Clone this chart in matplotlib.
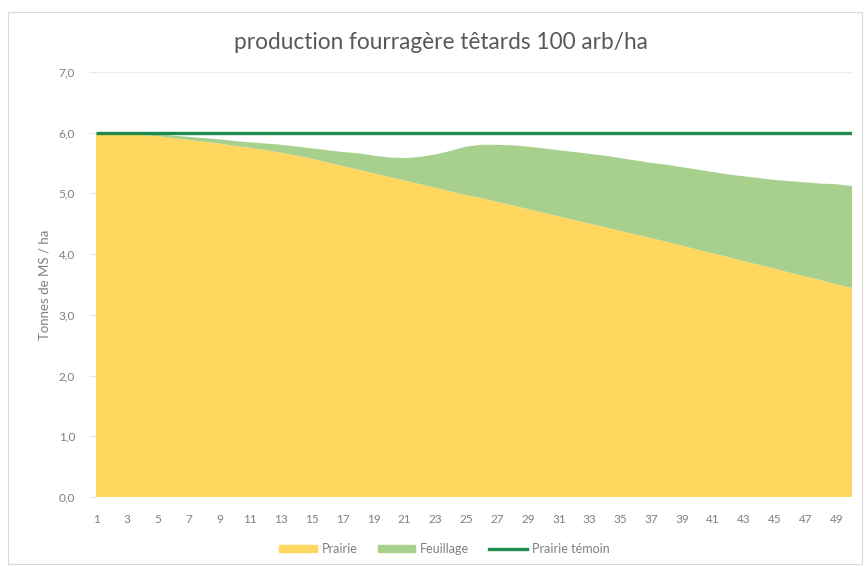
import matplotlib
matplotlib.use('Agg')
import matplotlib.pyplot as plt
from matplotlib.patches import Patch, Rectangle
from matplotlib.lines import Line2D
from matplotlib.ticker import FuncFormatter

plt.rcParams['font.family'] = ['Lato', 'DejaVu Sans']

# années 1 à 50
annees = list(range(1, 51))

prairie = [6.00, 5.99, 5.98, 5.96, 5.94, 5.91, 5.88, 5.85, 5.82, 5.78,
           5.75, 5.71, 5.67, 5.62, 5.57, 5.51, 5.45, 5.39, 5.33, 5.27,
           5.21, 5.15, 5.09, 5.03, 4.97, 4.92, 4.86, 4.80, 4.74, 4.68,
           4.62, 4.56, 4.50, 4.44, 4.38, 4.32, 4.26, 4.20, 4.14, 4.07,
           4.01, 3.95, 3.88, 3.82, 3.76, 3.69, 3.63, 3.57, 3.50, 3.44]

feuillage = [0.00, 0.01, 0.01, 0.02, 0.03, 0.04, 0.05, 0.06, 0.07, 0.08,
             0.09, 0.11, 0.13, 0.15, 0.17, 0.20, 0.23, 0.27, 0.29, 0.32,
             0.37, 0.45, 0.55, 0.67, 0.80, 0.88, 0.94, 0.99, 1.03, 1.06,
             1.09, 1.12, 1.15, 1.18, 1.20, 1.22, 1.24, 1.27, 1.29, 1.32,
             1.34, 1.36, 1.40, 1.43, 1.46, 1.51, 1.55, 1.59, 1.65, 1.68]

temoin = [6.0] * 50

jaune = '#FFD75E'
vert_clair = '#A8D08D'
vert_fonce = '#1F8A4C'
gris = '#7f7f7f'

fig = plt.figure(figsize=(8.65, 5.66), dpi=100)
ax = fig.add_axes([0.111, 0.122, 0.874, 0.751])

ax.stackplot(annees, prairie, feuillage, colors=[jaune, vert_clair], linewidth=0)
ax.plot(annees, temoin, color=vert_fonce, linewidth=2.4, solid_capstyle='butt')

ax.set_xlim(1, 50)
ax.set_ylim(0, 7)
ax.set_xticks(annees[::2])
ax.set_yticks([0, 1, 2, 3, 4, 5, 6, 7])
ax.yaxis.set_major_formatter(FuncFormatter(lambda v, p: f'{v:.1f}'.replace('.', ',')))
ax.tick_params(axis='both', labelsize=8.5, labelcolor=gris)
ax.tick_params(axis='x', length=0, pad=12)
ax.tick_params(axis='y', length=5, width=0.8, color='#e6e6e6', pad=10)
ax.grid(axis='y', color='#eeeeee', linewidth=0.8)
ax.set_axisbelow(True)
for s in ax.spines.values():
    s.set_visible(False)

ax.set_ylabel('Tonnes de MS / ha', fontsize=9.5, color=gris, labelpad=6)
fig.text(0.51, 0.925, 'production fourragère têtards 100 arb/ha', ha='center',
         va='center', fontsize=16.3, color='#595959')

handles = [Patch(color=jaune, label='Prairie'),
           Patch(color=vert_clair, label='Feuillage'),
           Line2D([0], [0], color=vert_fonce, linewidth=2.4, label='Prairie témoin')]
fig.legend(handles=handles, loc='center', bbox_to_anchor=(0.514, 0.03), ncol=3,
           frameon=False, fontsize=9, labelcolor=gris, handlelength=3.0,
           handleheight=0.5, columnspacing=1.6, handletextpad=0.4)

# cadre du graphique
fig.patches.append(Rectangle((0.009, 0.003), 0.988, 0.975, transform=fig.transFigure,
                             fill=False, edgecolor='#d9d9d9', linewidth=0.8))

fig.savefig('out.png', dpi=100, facecolor='white')
